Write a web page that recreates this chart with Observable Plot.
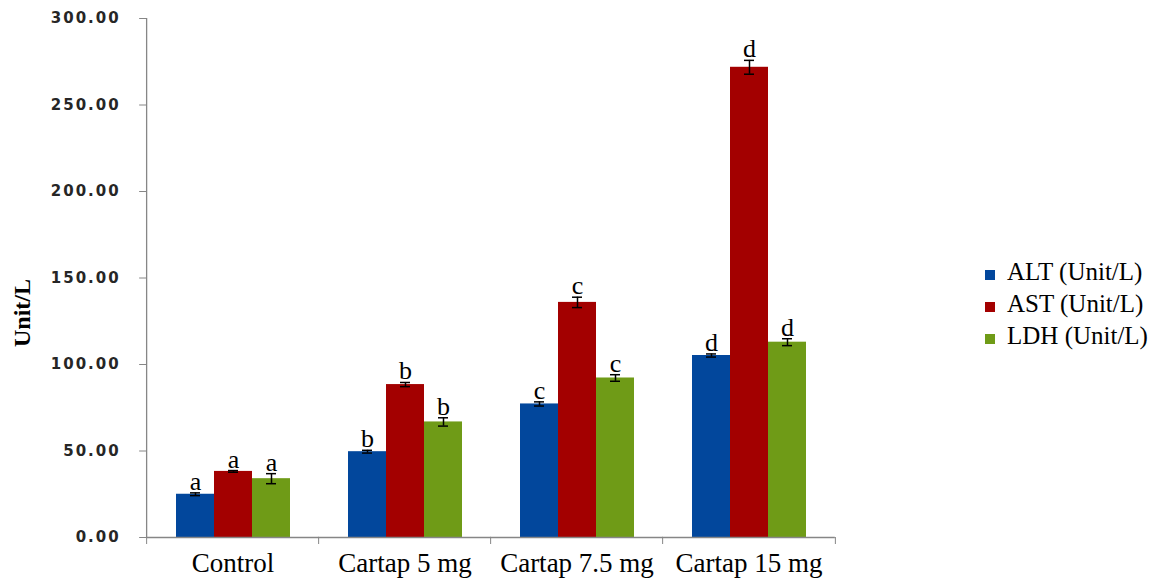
<!DOCTYPE html>
<html>
<head>
<meta charset="utf-8">
<script src="https://cdn.jsdelivr.net/npm/d3@7"></script>
<script src="https://cdn.jsdelivr.net/npm/@observablehq/plot@0.6"></script>
<style>
  body { margin: 0; background: #fff; }
  #wrap { position: relative; width: 1161px; height: 582px; overflow: hidden; }
  #ylabel { position: absolute; left: 22px; top: 313px; transform: translate(-50%, -50%) rotate(-90deg);
    font: bold 24px "Liberation Serif", "Times New Roman", serif; color: #000; white-space: nowrap; }
  #legend { position: absolute; left: 985px; top: 256px; font: 25px "Liberation Serif", "Times New Roman", serif; color: #000; }
  #legend .row { display: flex; align-items: center; height: 32px; white-space: nowrap; }
  #legend .sw { width: 10px; height: 10px; margin-right: 12px; margin-top: 5px; }
  g[aria-label="y-axis tick label"] text { letter-spacing: 2px; }
</style>
</head>
<body>
<div id="wrap">
  <div id="chart"></div>
  <div id="ylabel">Unit/L</div>
  <div id="legend"></div>
</div>
<script>
const groups = ["Control", "Cartap 5 mg", "Cartap 7.5 mg", "Cartap 15 mg"];
const series = ["ALT (Unit/L)", "AST (Unit/L)", "LDH (Unit/L)"];
const colors = ["#02479c", "#a30000", "#6f9b17"];
const altValues = [25, 49.6, 77.2, 105.2];
const astValues = [38.2, 88.4, 135.9, 271.8];
const ldhValues = [34, 66.8, 92.2, 112.9];
const altErr = [0.8, 0.8, 1.2, 0.9];
const astErr = [0.5, 1.2, 3.0, 4.0];
const ldhErr = [2.9, 2.4, 1.9, 2.0];
const letters = ["a", "b", "c", "d"];
const yTicks = [0, 50, 100, 150, 200, 250, 300];

const valueSets = [altValues, astValues, ldhValues];
const errSets = [altErr, astErr, ldhErr];
const rows = [];
groups.forEach((g, gi) => {
  series.forEach((s, si) => {
    rows.push({group: g, series: s, value: valueSets[si][gi], err: errSets[si][gi], letter: letters[gi]});
  });
});

const W = 1161, H = 582, ML = 145, MR = 325, MT = 18, MB = 45;
const padIn = 0.334, padOut = padIn / 2;
const step = (W - ML - MR) / (groups.length - padIn + 2 * padOut);
const outer = step * padOut;
const bandW = step * (1 - padIn);
const axisColor = "#868686";
const serif = "Liberation Serif, Times New Roman, serif";

const chart = Plot.plot({
  width: W, height: H,
  marginLeft: ML, marginRight: MR, marginTop: MT, marginBottom: MB,
  style: {background: "#fff", overflow: "visible"},
  fx: {domain: groups, paddingInner: padIn, paddingOuter: padOut, label: null},
  x: {domain: series, padding: 0, axis: null},
  y: {domain: [0, 300], label: null},
  color: {domain: series, range: colors},
  marks: [
    Plot.barY(rows, {fx: "group", x: "series", y: "value", fill: "series"}),
    Plot.ruleX(rows, {fx: "group", x: "series", y1: d => d.value - d.err, y2: d => d.value + d.err, stroke: "#000", strokeWidth: 1.5}),
    Plot.tickY(rows, {fx: "group", x: "series", y: d => d.value - d.err, stroke: "#000", strokeWidth: 1.5, insetLeft: 14, insetRight: 14}),
    Plot.tickY(rows, {fx: "group", x: "series", y: d => d.value + d.err, stroke: "#000", strokeWidth: 1.5, insetLeft: 14, insetRight: 14}),
    Plot.text(rows, {fx: "group", x: "series", y: d => d.value + d.err, text: "letter", lineAnchor: "bottom", dy: -3,
      fontFamily: serif, fontSize: 26, fill: "#000"}),
    // x axis line across all groups
    Plot.ruleY([0], {stroke: axisColor, strokeWidth: 1.3, insetLeft: -outer, insetRight: -outer}),
    // y axis line, only in the first group facet, moved to the frame's left edge
    Plot.ruleX([groups[0]], {fx: d => d, x: null, y1: 0, y2: 300, stroke: axisColor, strokeWidth: 1.3, dx: -(bandW / 2 + outer)}),
    Plot.axisY({ticks: yTicks, tickFormat: d3.format(".2f"), tickSize: 7, tickPadding: 19, dx: -outer,
      stroke: axisColor, fontFamily: "DejaVu Sans, Verdana, sans-serif", fontWeight: "bold", fontSize: 15, fill: "#262626", label: null}),
    Plot.axisFx({anchor: "bottom", tickSize: 0, tickPadding: 15, fontFamily: serif, fontSize: 27, fill: "#000", label: null}),
    Plot.axisFx({anchor: "bottom", tickSize: 7, tickFormat: () => "", dx: -step / 2, stroke: axisColor, label: null}),
    Plot.axisFx({anchor: "bottom", ticks: [groups[groups.length - 1]], tickSize: 7, tickFormat: () => "", dx: step / 2, stroke: axisColor, label: null})
  ]
});
document.getElementById("chart").append(chart);

const legend = document.getElementById("legend");
series.forEach((s, i) => {
  const row = document.createElement("div");
  row.className = "row";
  const sw = document.createElement("span");
  sw.className = "sw";
  sw.style.background = colors[i];
  const label = document.createElement("span");
  label.textContent = s;
  row.append(sw, label);
  legend.append(row);
});
</script>
</body>
</html>
